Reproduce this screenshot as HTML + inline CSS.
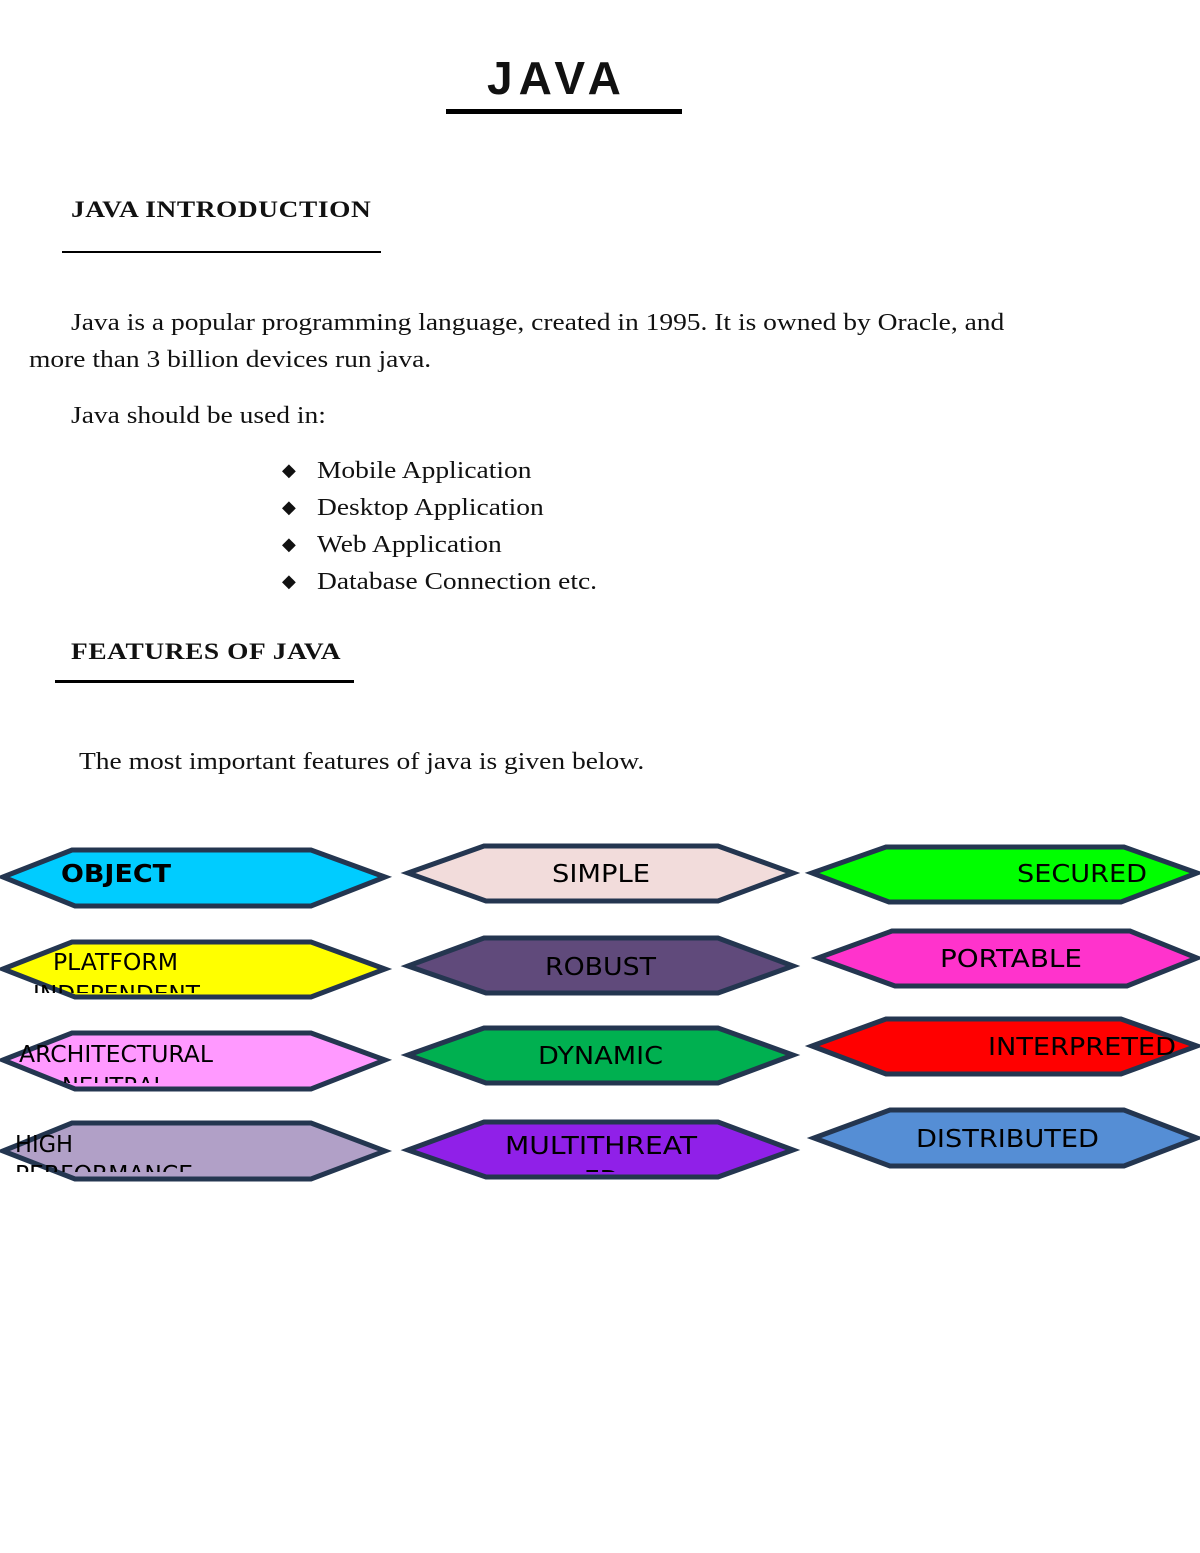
<!DOCTYPE html>
<html><head><meta charset="utf-8"><style>
html,body{margin:0;padding:0;background:#fff;}
body{width:1200px;height:1553px;position:relative;overflow:hidden;}
.t{position:absolute;white-space:nowrap;font-family:"Liberation Serif",serif;font-size:24px;color:#111;transform-origin:0 0;transform:scaleX(1.145);}
.h{font-weight:bold;font-size:23px;letter-spacing:0.5px;transform:scaleX(1.19);}
.line{position:absolute;background:#000;}
</style></head><body>
<div class="t" style="left:487px;top:51px;font-family:'Liberation Sans',sans-serif;font-weight:bold;font-size:46px;letter-spacing:6px;transform:none;">JAVA</div>
<div class="line" style="left:446px;top:109px;width:236px;height:5px;"></div>
<div class="t h" style="left:71px;top:197px;">JAVA INTRODUCTION</div>
<div class="line" style="left:62px;top:251px;width:319px;height:2px;"></div>
<div class="t" style="left:71px;top:310px;">Java is a popular programming language, created in 1995. It is owned by Oracle, and</div>
<div class="t" style="left:29px;top:347px;">more than 3 billion devices run java.</div>
<div class="t" style="left:71px;top:403px;">Java should be used in:</div>
<div class="t" style="left:282px;top:460px;transform:none;font-size:18px;">◆</div>
<div class="t" style="left:282px;top:497px;transform:none;font-size:18px;">◆</div>
<div class="t" style="left:282px;top:534px;transform:none;font-size:18px;">◆</div>
<div class="t" style="left:282px;top:571px;transform:none;font-size:18px;">◆</div>
<div class="t" style="left:317px;top:458px;">Mobile Application</div>
<div class="t" style="left:317px;top:495px;">Desktop Application</div>
<div class="t" style="left:317px;top:532px;">Web Application</div>
<div class="t" style="left:317px;top:569px;">Database Connection etc.</div>
<div class="t h" style="left:71px;top:639px;">FEATURES OF JAVA</div>
<div class="line" style="left:55px;top:680px;width:299px;height:3px;"></div>
<div class="t" style="left:79px;top:749px;">The most important features of java is given below.</div>

<svg width="1200" height="1553" style="position:absolute;left:0;top:0" xmlns="http://www.w3.org/2000/svg" font-family="DejaVu Sans, sans-serif" font-size="25" fill="#000">
<defs>
<clipPath id="c1"><rect x="0" y="0" width="1200" height="993"/></clipPath>
<clipPath id="c2"><rect x="0" y="0" width="1200" height="1083"/></clipPath>
<clipPath id="c3"><rect x="0" y="0" width="1200" height="1172"/></clipPath>
</defs>
<g stroke="#243650" stroke-width="5" stroke-linejoin="miter">
<polygon points="3,877 72,850 311,850 385,877 311,906 75,906" fill="#00ccff"/>
<polygon points="3,969 72,942 311,942 385,969 311,997 75,997" fill="#ffff00"/>
<polygon points="3,1060 72,1033 311,1033 385,1060 311,1089 75,1089" fill="#ff99ff"/>
<polygon points="3,1151 72,1123 311,1123 385,1151 311,1179 75,1179" fill="#b1a0c7"/>

<polygon points="408,873 484,846 718,846 793,873 718,901 486,901" fill="#f2dcdb"/>
<polygon points="408,966 484,938 718,938 793,966 718,993 486,993" fill="#604a7b"/>
<polygon points="408,1055 484,1028 718,1028 793,1055 718,1083 486,1083" fill="#00b050"/>
<polygon points="408,1150 484,1122 718,1122 793,1150 718,1177 486,1177" fill="#9020e8"/>

<polygon points="812,873 886,847 1124,847 1197,873 1121,902 889,902" fill="#00ff00"/>
<polygon points="818,958 892,931 1130,931 1197,958 1127,986 895,986" fill="#ff33cc"/>
<polygon points="812,1046 886,1019 1121,1019 1197,1046 1121,1074 886,1074" fill="#ff0000"/>
<polygon points="814,1138 890,1110 1124,1110 1197,1138 1124,1166 890,1166" fill="#558ed5"/>
</g>
<text x="61" y="882" font-weight="bold" textLength="110" lengthAdjust="spacingAndGlyphs">OBJECT</text>
<g clip-path="url(#c1)"><text x="53" y="970" font-size="23" textLength="125" lengthAdjust="spacingAndGlyphs">PLATFORM</text><text x="33" y="1002" font-size="23" textLength="167" lengthAdjust="spacingAndGlyphs">INDEPENDENT</text></g>
<g clip-path="url(#c2)"><text x="19" y="1062" font-size="23" textLength="194" lengthAdjust="spacingAndGlyphs">ARCHITECTURAL</text><text x="62" y="1094" font-size="23" textLength="104" lengthAdjust="spacingAndGlyphs">NEUTRAL</text></g>
<g clip-path="url(#c3)"><text x="15" y="1152" font-size="23" textLength="58" lengthAdjust="spacingAndGlyphs">HIGH</text><text x="15" y="1182" font-size="23" textLength="178" lengthAdjust="spacingAndGlyphs">PERFORMANCE</text></g>
<text x="552" y="882" textLength="98" lengthAdjust="spacingAndGlyphs">SIMPLE</text>
<text x="545" y="975" textLength="111" lengthAdjust="spacingAndGlyphs">ROBUST</text>
<text x="538" y="1064" textLength="125" lengthAdjust="spacingAndGlyphs">DYNAMIC</text>
<g clip-path="url(#c3)"><text x="505" y="1154" textLength="192" lengthAdjust="spacingAndGlyphs">MULTITHREAT</text><text x="584" y="1188">ED</text></g>
<text x="1017" y="882" textLength="130" lengthAdjust="spacingAndGlyphs">SECURED</text>
<text x="940" y="967" textLength="142" lengthAdjust="spacingAndGlyphs">PORTABLE</text>
<text x="988" y="1055" textLength="188" lengthAdjust="spacingAndGlyphs">INTERPRETED</text>
<text x="916" y="1147" textLength="183" lengthAdjust="spacingAndGlyphs">DISTRIBUTED</text>
</svg>
</body></html>
